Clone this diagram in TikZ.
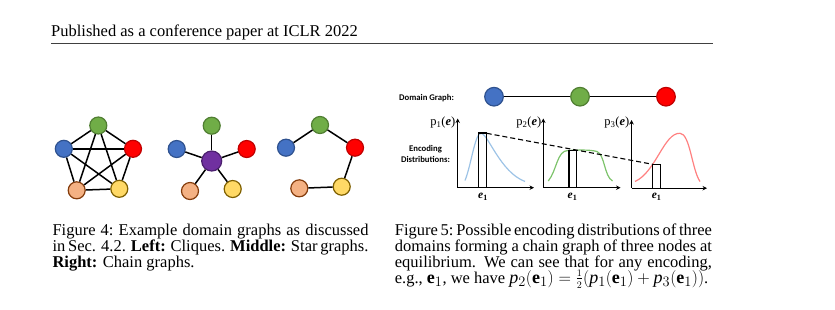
\documentclass[tikz,border=0pt]{standalone}
\usepackage{fontspec}
\setmainfont{Liberation Serif}
\newfontfamily\calib{Carlito}
\usetikzlibrary{arrows.meta}
\DeclareMathSizes{16.5}{18}{13.5}{10}
\definecolor{gfill}{HTML}{70AD47}\definecolor{gdraw}{HTML}{507E32}
\definecolor{bfill}{HTML}{4472C4}\definecolor{bdraw}{HTML}{2F528F}
\definecolor{rfill}{HTML}{FF0000}\definecolor{rdraw}{HTML}{C00000}
\definecolor{ofill}{HTML}{F4B183}\definecolor{odraw}{HTML}{843C0C}
\definecolor{yfill}{HTML}{FFD966}\definecolor{ydraw}{HTML}{7F6000}
\definecolor{pfill}{HTML}{7030A0}\definecolor{pdraw}{HTML}{4B1F6E}
\definecolor{cblue}{HTML}{9DC3E6}
\definecolor{cgreen}{HTML}{7DC36B}
\definecolor{cred}{HTML}{FF8080}
\newcommand\jline[2]{\makebox[#1][s]{#2}}
\begin{document}
\begin{tikzpicture}[x=1pt,y=-1pt,
  gn/.style={circle,minimum size=17pt,inner sep=0pt,line width=1.2pt},
  gG/.style={gn,fill=gfill,draw=gdraw},
  gB/.style={gn,fill=bfill,draw=bdraw},
  gR/.style={gn,fill=rfill,draw=rdraw},
  gO/.style={gn,fill=ofill,draw=odraw},
  gY/.style={gn,fill=yfill,draw=ydraw},
  gP/.style={gn,minimum size=20pt,fill=pfill,draw=pdraw},
  big/.style={minimum size=18.6pt},
  edge/.style={line width=1.5pt,black},
  axis/.style={line width=1.4pt,black,-{Stealth[length=4.5pt,width=4.5pt]}},
  bar/.style={line width=1.1pt,black},
  curve/.style={line width=1.2pt},
  txt/.style={inner sep=0pt,anchor=base west,font=\fontsize{16.5}{16}\selectfont},
  lab/.style={inner sep=0pt,font=\calib\bfseries\fontsize{8.7}{11}\selectfont},
  plab/.style={inner sep=0pt,font=\fontsize{12.5}{12}\selectfont},
  elab/.style={inner sep=0pt,font=\fontsize{11.5}{12}\selectfont}
]
\useasboundingbox (0,0) rectangle (835,309);
% header
\node[txt] (hdr) at (51,36.7) {Published as a conference paper at ICLR 2022};
\coordinate (hr1) at (51,43.2);
\coordinate (hr2) at (713,43.2);
\draw[line width=1pt,black!75] (hr1) -- (hr2);

% ---- clique ----
\node[gG] (ag) at (98.3,125.5) {};
\node[gB] (ab) at (63.8,148.8) {};
\node[gR] (ar) at (133,148.8) {};
\node[gO] (ao) at (76.7,190.3) {};
\node[gY] (ay) at (119.3,188.8) {};
\foreach \u/\v in {ag/ab,ag/ar,ag/ao,ag/ay,ab/ar,ab/ao,ab/ay,ar/ao,ar/ay,ao/ay}
  \draw[edge] (\u) -- (\v);

% ---- star ----
\node[gP] (sp) at (211.7,161) {};
\node[gG] (sg) at (211.7,125.7) {};
\node[gB] (sb) at (176.7,149) {};
\node[gR] (sr) at (246.7,149) {};
\node[gO] (so) at (190,191) {};
\node[gY] (sy) at (232.7,189) {};
\foreach \v in {sg,sb,sr,so,sy} \draw[edge] (sp) -- (\v);

% ---- chain ----
\node[gG] (cg) at (320,125) {};
\node[gB] (cb) at (286,147.7) {};
\node[gR] (cr) at (355,147.7) {};
\node[gY] (cy) at (341.7,186.7) {};
\node[gO] (co) at (299.3,188.3) {};
\draw[edge] (cb) -- (cg);
\draw[edge] (cg) -- (cr);
\draw[edge] (cr) -- (cy);
\draw[edge] (cy) -- (co);

% ---- figure 5 ----
\node[lab] (dg) at (426.5,98) {Domain Graph:};
\node[gB,big] (d1) at (494,96.7) {};
\node[gG,big] (d2) at (580,96.7) {};
\node[gR,big] (d3) at (666,96.7) {};
\draw[edge] (d1) -- (d2);
\draw[edge] (d2) -- (d3);

\node[lab,align=center] (enc) at (425.5,154) {Encoding\\Distributions:};

% axes
\coordinate (o1) at (457.7,187.7); \coordinate (t1) at (457.7,118.5); \coordinate (x1) at (534,187.7);
\coordinate (o2) at (543.3,187.7); \coordinate (t2) at (543.3,118.5); \coordinate (x2) at (620.5,187.7);
\coordinate (o3) at (631.5,188.2); \coordinate (t3) at (631.5,120); \coordinate (x3) at (707,188.2);
\draw[axis] (o1) -- (t1);
\draw[axis] (o1) -- (x1);
\draw[axis] (o2) -- (t2);
\draw[axis] (o2) -- (x2);
\draw[axis] (o3) -- (t3);
\draw[axis] (o3) -- (x3);

\node[plab,anchor=base east] (p1) at (455.5,125.5) {p\textsubscript{1}(\textbf{\textit{e}})};
\node[plab,anchor=base east] (p2) at (541.5,125.5) {p\textsubscript{2}(\textbf{\textit{e}})};
\node[plab,anchor=base east] (p3) at (629.5,125.5) {p\textsubscript{3}(\textbf{\textit{e}})};

% curves
\draw[curve,cblue] (465,180.5) .. controls (471,166) and (475,133) .. (481,133.3)
   .. controls (488,133.5) and (500,172) .. (525,181.5);
\draw[curve,cgreen] (548.3,181) .. controls (557,170) and (557,150.5) .. (568,150.5)
   .. controls (578,150) and (590,149.5) .. (597,151.5)
   .. controls (605,155) and (604,176) .. (612.5,181);
\draw[curve,cred] (635,181.5) .. controls (656,172) and (664,132.5) .. (680,133.3)
   .. controls (690,133.5) and (692,170) .. (700,181.5);

% bars
\coordinate (b1a) at (478.3,133.3); \coordinate (b1b) at (486.7,187.7);
\coordinate (b2a) at (569,150.7);   \coordinate (b2b) at (576.7,187.7);
\coordinate (b3a) at (652.7,164.3); \coordinate (b3b) at (660.7,188.2);
\draw[bar] (b1a) rectangle (b1b);
\draw[bar] (b2a) rectangle (b2b);
\draw[bar] (b3a) rectangle (b3b);
\draw[line width=2pt] (b1a) -- (b1b |- b1a);

% dashed line
\coordinate (ds) at (486.7,133.3);
\coordinate (de) at (652.7,164.3);
\draw[line width=1.1pt,dash pattern=on 5pt off 3pt] (ds) -- (de);

\node[elab,anchor=base] (e1a) at (483,198.5) {\textbf{\textit{e}\textsubscript{1}}};
\node[elab,anchor=base] (e1b) at (572.5,198.5) {\textbf{\textit{e}\textsubscript{1}}};
\node[elab,anchor=base] (e1c) at (656.7,198.5) {\textbf{\textit{e}\textsubscript{1}}};

% captions
\node[txt] (c4a) at (52.3,235) {\frenchspacing\jline{316pt}{Figure 4: Example domain graphs as discussed}};
\node[txt] (c4b) at (52.3,251) {\jline{316pt}{in Sec. 4.2. \textbf{Left:} Cliques. \textbf{Middle:} Star graphs.}};
\node[txt] (c4c) at (52.3,267) {\textbf{Right:} Chain graphs.};

\node[txt] (c5a) at (394.7,235) {\frenchspacing\jline{317pt}{Figure 5: Possible encoding distributions of three}};
\node[txt] (c5b) at (394.7,251) {\jline{317pt}{domains forming a chain graph of three nodes at}};
\node[txt] (c5c) at (394.7,267) {\jline{317pt}{equilibrium. We can see that for any encoding,}};
\node[txt] (c5d) at (394.7,283) {e.g., $\mathbf{e}_1$, we have $\mathit{p}_2(\mathbf{e}_1)=\frac{\scriptscriptstyle 1}{\scriptscriptstyle 2}(\mathit{p}_1(\mathbf{e}_1)+\mathit{p}_3(\mathbf{e}_1))$.};
\end{tikzpicture}
\end{document}
